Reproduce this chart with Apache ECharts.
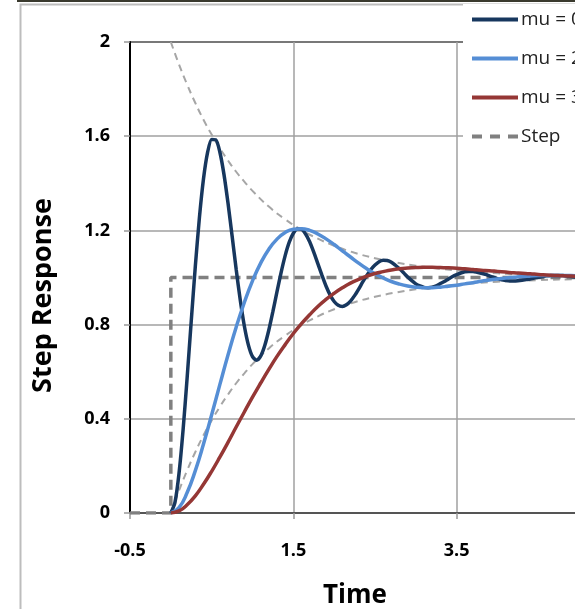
<!DOCTYPE html>
<html>
<head>
<meta charset="utf-8">
<script src="https://cdn.jsdelivr.net/npm/echarts@6/dist/echarts.min.js"></script>
<style>
  html, body { margin: 0; padding: 0; background: #fff; }
  #main { width: 575px; height: 609px; }
</style>
</head>
<body>
<div id="main"></div>
<script>
// step responses
var fineTimes = [0, 0.05, 0.1, 0.15, 0.2, 0.25, 0.3, 0.35, 0.4, 0.45,
  0.5, 0.55, 0.6, 0.65, 0.7, 0.75, 0.8, 0.85, 0.9, 0.95,
  1.0, 1.05, 1.1, 1.15, 1.2, 1.25, 1.3, 1.35, 1.4, 1.45,
  1.5, 1.55, 1.6, 1.65, 1.7, 1.75, 1.8, 1.85, 1.9, 1.95,
  2.0, 2.05, 2.1, 2.15, 2.2, 2.25, 2.3, 2.35, 2.4, 2.45,
  2.5, 2.55, 2.6, 2.65, 2.7, 2.75, 2.8, 2.85, 2.9, 2.95,
  3.0, 3.05, 3.1, 3.15, 3.2, 3.25, 3.3, 3.35, 3.4, 3.45,
  3.5, 3.55, 3.6, 3.65, 3.7, 3.75, 3.8, 3.85, 3.9, 3.95,
  4.0, 4.05, 4.1, 4.15, 4.2, 4.25, 4.3, 4.35, 4.4, 4.45,
  4.5, 4.55, 4.6, 4.65, 4.7, 4.75, 4.8, 4.85, 4.9, 4.95, 5.0];
var mu1Values = [0, 0.044, 0.168, 0.353, 0.576, 0.816, 1.048, 1.254, 1.419, 1.531,
  1.586, 1.585, 1.533, 1.439, 1.316, 1.177, 1.035, 0.904, 0.794, 0.713,
  0.664, 0.649, 0.666, 0.711, 0.777, 0.856, 0.940, 1.021, 1.093, 1.150,
  1.188, 1.206, 1.205, 1.185, 1.152, 1.108, 1.059, 1.010, 0.964, 0.926,
  0.898, 0.882, 0.877, 0.884, 0.900, 0.923, 0.951, 0.981, 1.009, 1.034,
  1.053, 1.067, 1.073, 1.072, 1.065, 1.052, 1.037, 1.020, 1.002, 0.987,
  0.973, 0.964, 0.958, 0.957, 0.959, 0.965, 0.974, 0.983, 0.994, 1.004,
  1.012, 1.019, 1.024, 1.025, 1.025, 1.022, 1.018, 1.013, 1.007, 1.001,
  0.995, 0.990, 0.987, 0.985, 0.985, 0.986, 0.988, 0.991, 0.994, 0.998,
  1.001, 1.004, 1.007, 1.008, 1.009, 1.009, 1.008, 1.006, 1.004, 1.002, 1.000];

var coarseTimes = [0, 0.1, 0.2, 0.3, 0.4, 0.5, 0.6, 0.7, 0.8, 0.9,
  1.0, 1.1, 1.2, 1.3, 1.4, 1.5, 1.6, 1.7, 1.8, 1.9,
  2.0, 2.1, 2.2, 2.3, 2.4, 2.5, 2.6, 2.7, 2.8, 2.9,
  3.0, 3.1, 3.2, 3.3, 3.4, 3.5, 3.6, 3.7, 3.8, 3.9,
  4.0, 4.1, 4.2, 4.3, 4.4, 4.5, 4.6, 4.7, 4.8, 4.9,
  5.0, 5.1, 5.2, 5.3, 5.4, 5.5];
var mu2Values = [0, 0.023, 0.087, 0.180, 0.293, 0.417, 0.545, 0.671, 0.789, 0.894,
  0.986, 1.061, 1.120, 1.163, 1.191, 1.205, 1.207, 1.200, 1.185, 1.164,
  1.140, 1.113, 1.087, 1.061, 1.037, 1.016, 0.998, 0.983, 0.972, 0.964,
  0.959, 0.957, 0.957, 0.959, 0.963, 0.967, 0.973, 0.978, 0.984, 0.989,
  0.994, 0.998, 1.001, 1.004, 1.006, 1.008, 1.009, 1.009, 1.009, 1.008,
  1.007, 1.006, 1.005, 1.004, 1.003, 1.002];
var mu3Values = [0, 0.009, 0.035, 0.073, 0.122, 0.177, 0.237, 0.300, 0.365, 0.429,
  0.492, 0.552, 0.610, 0.665, 0.715, 0.762, 0.804, 0.842, 0.877, 0.907,
  0.933, 0.956, 0.976, 0.992, 1.006, 1.017, 1.025, 1.032, 1.037, 1.040,
  1.042, 1.043, 1.043, 1.042, 1.041, 1.039, 1.037, 1.034, 1.031, 1.029,
  1.026, 1.023, 1.020, 1.018, 1.016, 1.013, 1.011, 1.009, 1.007, 1.006,
  1.005, 1.003, 1.002, 1.001, 1.000, 1.000];

// decay envelopes
var envTimes = [0, 0.1, 0.2, 0.3, 0.4, 0.5, 0.6, 0.7, 0.8, 0.9, 1.0, 1.2, 1.4, 1.6, 1.8,
  2.0, 2.25, 2.5, 2.75, 3.0, 3.5, 4.0, 4.5, 5.0, 5.5];
var upperEnv = [2.000, 1.905, 1.819, 1.741, 1.670, 1.607, 1.549, 1.497, 1.449, 1.407, 1.368,
  1.301, 1.247, 1.202, 1.165, 1.135, 1.105, 1.082, 1.064, 1.050, 1.030, 1.018, 1.011, 1.007, 1.004];
var lowerEnv = [0, 0.095, 0.181, 0.259, 0.330, 0.393, 0.451, 0.503, 0.551, 0.593, 0.632,
  0.699, 0.753, 0.798, 0.835, 0.865, 0.895, 0.918, 0.936, 0.950, 0.970, 0.982, 0.989, 0.993, 0.996];

var stepTimes = [-0.5, 0, 0, 5.5];
var stepValues = [0, 0, 1, 1];

var seriesNames = ['mu = 0.16', 'mu = 2', 'mu = 3', 'Step'];
var yTicks = ['0', '0.4', '0.8', '1.2', '1.6', '2'];

function pairs(xs, ys) {
  var out = [];
  for (var i = 0; i < xs.length; i++) out.push([xs[i], ys[i]]);
  return out;
}

var font = '"Open Sans", "Noto Sans", sans-serif';
var solidIcon = 'path://M0,0H46V4H0Z';
var dashIcon = 'path://M0,0H10V4H0Z M18,0H28V4H18Z M36,0H46V4H36Z';
var myChart = echarts.init(document.getElementById('main'));

var option = {
  animation: false,
  backgroundColor: '#fff',
  graphic: [
    { type: 'rect', shape: { x: 17, y: 0, width: 560, height: 2 }, style: { fill: '#3a3a2e' } },
    { type: 'polyline', shape: { points: [[20.5, 700], [20.5, 4.5], [580, 4.5]] },
      style: { stroke: '#bdbdbd', lineWidth: 2, fill: null } }
  ],
  grid: {
    left: 130, top: 42, width: 490, height: 471,
    outerBoundsMode: 'none',
    containLabel: false,
    show: true, borderColor: '#000', borderWidth: 2
  },
  legend: {
    data: [
      { name: seriesNames[0], icon: solidIcon },
      { name: seriesNames[1], icon: solidIcon },
      { name: seriesNames[2], icon: solidIcon },
      { name: seriesNames[3], icon: dashIcon }
    ],
    orient: 'vertical',
    left: 463, top: 4,
    padding: [5, 5, 5, 9],
    itemGap: 18,
    itemWidth: 46,
    itemHeight: 4,
    backgroundColor: '#fff',
    textStyle: { fontFamily: font, fontSize: 19, lineHeight: 21, color: '#222', padding: [0, 0, 0, -2] }
  },
  xAxis: {
    type: 'value',
    min: -0.5, max: 5.5, interval: 2,
    name: 'Time',
    nameLocation: 'middle',
    nameGap: 70,
    nameTextStyle: { fontFamily: font, fontSize: 26, fontWeight: 'bold', color: '#000', padding: [0, 40, 0, 0] },
    axisLine: { onZero: false, lineStyle: { color: '#555', width: 2 } },
    axisTick: { show: true, length: 6, lineStyle: { color: '#999', width: 1.5 } },
    axisLabel: { fontFamily: font, fontSize: 18, fontWeight: 'bold', color: '#000', margin: 29,
      formatter: function (v) { return v.toFixed(1); } },
    splitLine: { show: true, lineStyle: { color: '#a0a0a0', width: 1.5 } }
  },
  yAxis: {
    type: 'value',
    min: 0, max: 2, interval: 0.4,
    name: 'Step Response',
    nameLocation: 'middle',
    nameGap: 73,
    nameTextStyle: { fontFamily: font, fontSize: 27, fontWeight: 'bold', color: '#000', padding: [0, 36, 0, 0] },
    axisLine: { show: true, onZero: false, lineStyle: { color: '#000', width: 2 } },
    axisTick: { show: true, length: 6, lineStyle: { color: '#999', width: 1.5 } },
    axisLabel: { fontFamily: font, fontSize: 18, fontWeight: 'bold', color: '#000', margin: 20,
      formatter: function (v) { return yTicks[Math.round(v / 0.4)]; } },
    splitLine: { show: true, lineStyle: { color: '#a0a0a0', width: 1.5 } }
  },
  series: [
    {
      name: 'upper', type: 'line', data: pairs(envTimes, upperEnv), smooth: true,
      symbol: 'none', silent: true,
      lineStyle: { color: '#a6a6a6', width: 2, type: [7, 5] }
    },
    {
      name: 'lower', type: 'line', data: pairs(envTimes, lowerEnv), smooth: true,
      symbol: 'none', silent: true,
      lineStyle: { color: '#a6a6a6', width: 2, type: [7, 5] }
    },
    {
      name: seriesNames[3], type: 'line', data: pairs(stepTimes, stepValues),
      symbol: 'none', color: '#808080',
      lineStyle: { color: '#808080', width: 3.5, type: [10, 6] }
    },
    {
      name: seriesNames[0], type: 'line', data: pairs(fineTimes, mu1Values), smooth: 0.25,
      symbol: 'none', color: '#17375e',
      lineStyle: { color: '#17375e', width: 3.5 }
    },
    {
      name: seriesNames[1], type: 'line', data: pairs(coarseTimes, mu2Values), smooth: true,
      symbol: 'none', color: '#558ed5',
      lineStyle: { color: '#558ed5', width: 3.5 }
    },
    {
      name: seriesNames[2], type: 'line', data: pairs(coarseTimes, mu3Values), smooth: true,
      symbol: 'none', color: '#953735',
      lineStyle: { color: '#953735', width: 3.5 }
    }
  ]
};

myChart.setOption(option, true);
</script>
</body>
</html>
